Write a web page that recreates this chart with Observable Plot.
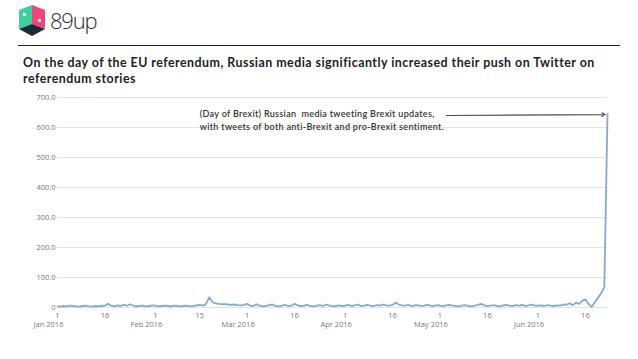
<!DOCTYPE html>
<html>
<head>
<meta charset="utf-8">
<script src="https://cdn.jsdelivr.net/npm/d3@7"></script>
<script src="https://cdn.jsdelivr.net/npm/@observablehq/plot@0.6"></script>
<style>
  html, body { margin: 0; padding: 0; background: #fff; }
  body { width: 638px; height: 359px; position: relative; overflow: hidden; font-family: Lato, "Open Sans", sans-serif; }
  #logo { position: absolute; left: 17px; top: 4px; }
  #brand { position: absolute; left: 50px; top: 5px; font-family: "Open Sans", sans-serif; font-size: 22px; color: #2b2b3a; letter-spacing: -1.2px; font-weight: 300; }
  #rule { position: absolute; left: 18px; top: 45px; width: 602px; height: 0; border-top: 1.5px solid #222; }
  #title { position: absolute; left: 23px; top: 55px; width: 588px; font-family: Lato, sans-serif; font-weight: 700; font-size: 12.4px; letter-spacing: 0.48px; line-height: 16px; color: #222; }
  #chart { position: absolute; left: 36px; top: 90px; }
  #chart svg { overflow: visible; }
</style>
</head>
<body>
<svg id="logo" width="30" height="34" viewBox="0 0 30 34">
  <polygon points="2,6 15,1 15,20 2,25" fill="#3fcf9f"/>
  <polygon points="15,1 28,6 28,25 15,20" fill="#f0457b"/>
  <polygon points="2,25 15,20 28,25 15,32" fill="#1d2a36"/>
  <rect x="6" y="9" width="3" height="3" fill="#fff" opacity="0.8"/>
  <rect x="21" y="15" width="3" height="3" fill="#fff" opacity="0.8"/>
</svg>
<div id="brand">89up</div>
<div id="rule"></div>
<div id="title">On the day of the EU referendum, Russian media significantly increased their push on Twitter on referendum stories</div>
<div id="chart"></div>
<script>
// Daily counts of Russian media tweets on referendum stories
const jan = [4,3,5,4,6,5,4,3,5,6,4,3,5,4,5,6,12,6,4,7,5,9,6,11,6,4,5,6,4,5,7];
const feb = [6,4,5,6,5,4,6,5,4,5,6,4,5,7,9,6,12,34,18,14,12,11,11,10,9,10,8,7,9];
const mar = [12,6,5,11,6,4,5,8,10,5,4,6,9,5,6,12,7,5,6,9,5,4,6,8,5,10,6,4,5,7,5];
const apr = [6,9,5,7,10,5,6,9,6,5,8,6,10,7,6,9,16,10,7,6,9,5,7,8,5,6,9,6,5,8];
const may = [6,5,7,9,6,5,4,6,8,5,4,6,9,12,7,5,6,8,5,4,7,9,6,5,8,6,9,5,7,10,6];
const jun = [6,7,5,8,6,5,7,6,10,9,14,8,16,12,22,27,12,2,18,32,48,68,645];

const startDay = new Date(Date.UTC(2016, 0, 1));
const values = [...jan, ...feb, ...mar, ...apr, ...may, ...jun];
const series = values.map((v, i) => ({date: new Date(startDay.getTime() + i * 86400000), value: v}));

const dayTicks = ["2016-01-01","2016-01-16","2016-02-01","2016-02-15","2016-03-01","2016-03-16","2016-04-01","2016-04-16","2016-05-01","2016-05-16","2016-06-01","2016-06-16"].map(s => new Date(s));
const monthTicks = ["2016-01-01","2016-02-01","2016-03-01","2016-04-01","2016-05-01","2016-06-01"].map(s => new Date(s));
const monthLabels = ["Jan 2016","Feb 2016","Mar 2016","Apr 2016","May 2016","Jun 2016"];
const yTicks = [0,100,200,300,400,500,600,700];

const noteText = "(Day of Brexit) Russian  media tweeting Brexit updates,\nwith tweets of both anti-Brexit and pro-Brexit sentiment.";
const noteAnchor = {date: new Date("2016-02-15"), value: 667};
const arrowSpec = {x1: new Date("2016-05-03"), y1: 640, x2: new Date("2016-06-22T06:00"), y2: 643};

const chart = Plot.plot({
  width: 602,
  height: 247,
  marginLeft: 21,
  marginRight: 31,
  marginTop: 7,
  marginBottom: 30,
  style: {fontFamily: "'Open Sans', sans-serif", fontSize: "7.5px", color: "#777", background: "transparent", overflow: "visible"},
  x: {type: "utc", domain: [series[0].date, series[series.length - 1].date]},
  y: {domain: [0, 700]},
  marks: [
    Plot.gridY(yTicks, {stroke: "#e3e3e3", strokeOpacity: 1}),
    Plot.axisY({ticks: yTicks, tickSize: 0, tickPadding: 2, tickFormat: d => d === 0 ? "0" : d3.format(".1f")(d), label: null, fill: "#777"}),
    Plot.axisX({ticks: dayTicks, tickSize: 0, tickPadding: 5, tickFormat: d => String(d.getUTCDate()), label: null, fill: "#777"}),
    Plot.text(monthTicks, {x: d => d, y: () => 0, text: (d, i) => monthLabels[i], dy: 17, dx: -9, fill: "#777"}),
    Plot.line(series, {x: "date", y: "value", stroke: "#84aad3", strokeWidth: 1.8, curve: "linear"}),
    Plot.arrow([arrowSpec], {x1: "x1", y1: "y1", x2: "x2", y2: "y2", stroke: "#4f4f44", strokeWidth: 1.1, headLength: 5, bend: false}),
    Plot.text([noteAnchor], {x: "date", y: "value", text: () => noteText, textAnchor: "start", lineAnchor: "top", lineHeight: 1.45, fontSize: 9, fontWeight: 600, fill: "#333", fontFamily: "Lato, sans-serif"})
  ]
});
document.getElementById("chart").appendChild(chart);
// widen the annotation lettering a little, like the reference
d3.select(chart).selectAll("text").filter(function() { return this.textContent.startsWith("(Day of Brexit)"); }).style("letter-spacing", "0.32px");
</script>
</body>
</html>
